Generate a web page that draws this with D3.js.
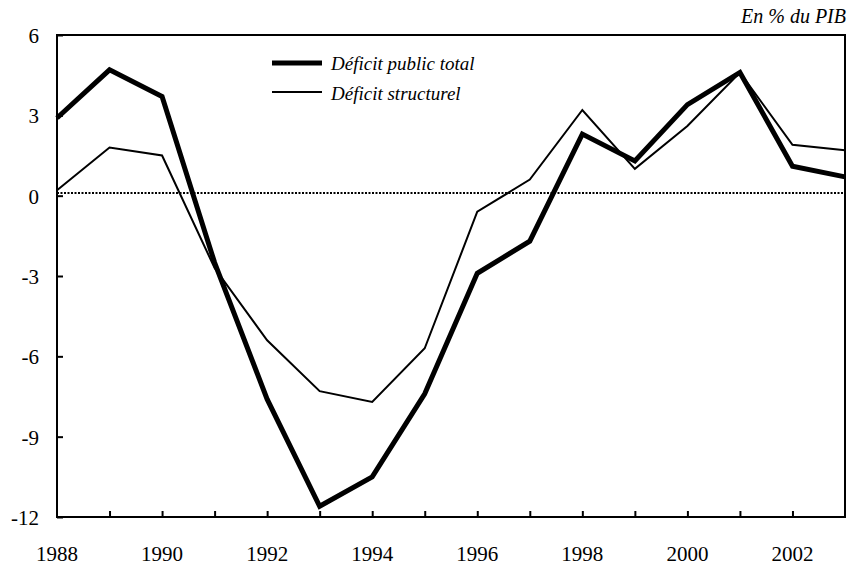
<!DOCTYPE html>
<html>
<head>
<meta charset="utf-8">
<script src="https://cdn.jsdelivr.net/npm/d3@7"></script>
<style>
  body { margin: 0; background: #fff; }
</style>
</head>
<body>
<div id="chart"></div>
<script>
// years and values (% du PIB)
let years = [1988, 1989, 1990, 1991, 1992, 1993, 1994, 1995, 1996, 1997, 1998, 1999, 2000, 2001, 2002, 2003];
let deficitTotal = [2.9, 4.7, 3.7, -2.5, -7.6, -11.6, -10.5, -7.4, -2.9, -1.7, 2.3, 1.3, 3.4, 4.6, 1.1, 0.7];
let deficitStruct = [0.2, 1.8, 1.5, -2.7, -5.4, -7.3, -7.7, -5.7, -0.6, 0.6, 3.2, 1.0, 2.6, 4.6, 1.9, 1.7];
let yTicks = [6, 3, 0, -3, -6, -9, -12];
let xLabels = [1988, 1990, 1992, 1994, 1996, 1998, 2000, 2002];
let seriesNames = ["Déficit public total", "Déficit structurel"];
let refLine = 0.1; // dotted line sits just above zero

var serif = "'Liberation Serif', 'Times New Roman', 'DejaVu Serif', serif";
var width = 853, height = 569;
var margin = {top: 35, right: 8, bottom: 52, left: 57};

var svg = d3.select("#chart")
    .append("svg")
        .attr("width", width)
        .attr("height", height)
        .attr("font-family", serif);

var x = d3.scaleLinear()
    .domain([1988, 2003])
    .range([margin.left, width - margin.right]);

var y = d3.scaleLinear()
    .domain([-12, 6])
    .range([height - margin.bottom, margin.top]);

// dotted reference line
svg.append("line")
    .attr("x1", x(1988)).attr("x2", x(2003))
    .attr("y1", y(refLine)).attr("y2", y(refLine))
    .attr("stroke", "#000")
    .attr("stroke-width", 2)
    .attr("stroke-dasharray", "2,1.5");

// lines
var line = d3.line()
    .x(function(d, i) { return x(years[i]); })
    .y(function(d) { return y(d); });

svg.append("path")
    .datum(deficitStruct)
    .attr("d", line)
    .attr("fill", "none")
    .attr("stroke", "#000")
    .attr("stroke-width", 2);

svg.append("path")
    .datum(deficitTotal)
    .attr("d", line)
    .attr("fill", "none")
    .attr("stroke", "#000")
    .attr("stroke-width", 5);

// frame
svg.append("rect")
    .attr("x", x(1988)).attr("y", y(6))
    .attr("width", x(2003) - x(1988))
    .attr("height", y(-12) - y(6))
    .attr("fill", "none")
    .attr("stroke", "#000")
    .attr("stroke-width", 2);

// y axis, ticks pointing inward
var yAxis = svg.append("g")
    .attr("transform", "translate(" + x(1988) + ",0)")
    .call(d3.axisRight(y).tickValues(yTicks).tickSize(6).tickFormat(""));
yAxis.select(".domain").remove();
yAxis.selectAll("line").attr("stroke-width", 2);

svg.selectAll(".ylab")
    .data(yTicks)
    .enter().append("text")
        .attr("class", "ylab")
        .attr("x", 39)
        .attr("y", function(d) { return y(d) + 8; })
        .attr("text-anchor", "end")
        .attr("font-family", serif)
        .attr("font-size", 21)
        .text(function(d) { return d; });

// x axis, ticks pointing up
var xAxis = svg.append("g")
    .attr("transform", "translate(0," + y(-12) + ")")
    .call(d3.axisTop(x).tickValues(years.slice(1, -1)).tickSize(6).tickFormat(""));
xAxis.select(".domain").remove();
xAxis.selectAll("line").attr("stroke-width", 2);

svg.selectAll(".xlab")
    .data(xLabels)
    .enter().append("text")
        .attr("class", "xlab")
        .attr("x", function(d) { return x(d); })
        .attr("y", 561)
        .attr("text-anchor", "middle")
        .attr("font-family", serif)
        .attr("font-size", 21)
        .text(function(d) { return d; });

// unit label
svg.append("text")
    .attr("x", 846)
    .attr("y", 23)
    .attr("text-anchor", "end")
    .attr("font-family", serif)
    .attr("font-size", 20)
    .attr("font-style", "italic")
    .text("En % du PIB");

// legend
var legend = svg.append("g");
var legW = [5, 2];
legend.selectAll("line")
    .data(seriesNames)
    .enter().append("line")
        .attr("x1", 272).attr("x2", 322)
        .attr("y1", function(d, i) { return 63 + i * 29; })
        .attr("y2", function(d, i) { return 63 + i * 29; })
        .attr("stroke", "#000")
        .attr("stroke-width", function(d, i) { return legW[i]; });
legend.selectAll("text")
    .data(seriesNames)
    .enter().append("text")
        .attr("x", 331)
        .attr("y", function(d, i) { return 70 + i * 30; })
        .attr("font-family", serif)
        .attr("font-size", 19)
        .attr("font-style", "italic")
        .text(function(d) { return d; });
</script>
</body>
</html>
